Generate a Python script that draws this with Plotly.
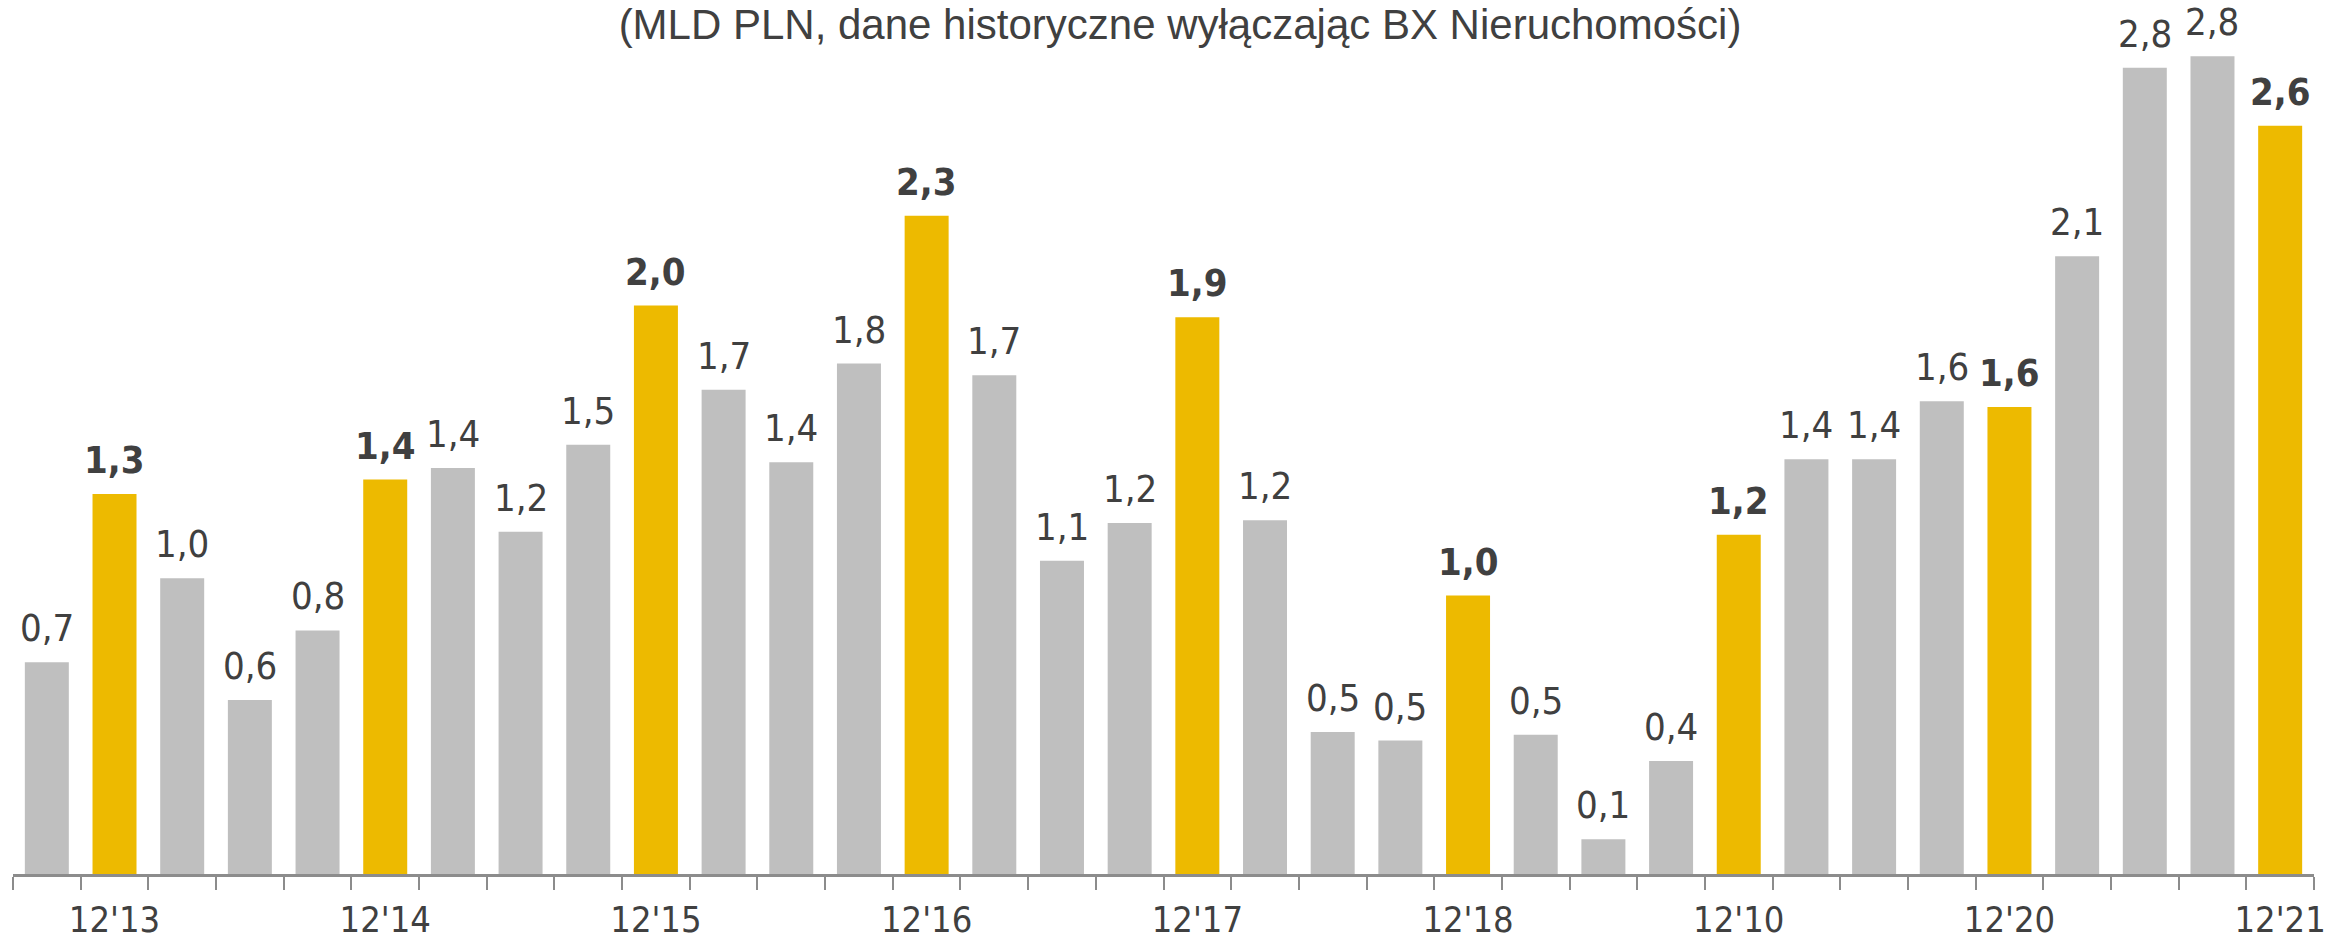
import plotly.graph_objects as go

# Quarter categories (Sep'13 .. Dec'21)
quarters = ["09'13", "12'13", "03'14", "06'14", "09'14", "12'14", "03'15", "06'15",
            "09'15", "12'15", "03'16", "06'16", "09'16", "12'16", "03'17", "06'17",
            "09'17", "12'17", "03'18", "06'18", "09'18", "12'18", "03'19", "06'19",
            "09'19", "12'19", "03'20", "06'20", "09'20", "12'20", "03'21", "06'21",
            "09'21", "12'21"]

# Values (bn PLN)
values = [0.73, 1.31, 1.02, 0.60, 0.84, 1.36, 1.40, 1.18,
          1.48, 1.96, 1.67, 1.42, 1.76, 2.27, 1.72, 1.08,
          1.21, 1.92, 1.22, 0.49, 0.46, 0.96, 0.48, 0.12,
          0.39, 1.17, 1.43, 1.43, 1.63, 1.61, 2.13, 2.78,
          2.82, 2.58]

# Tick labels as printed on the chart (only year-end quarters labelled)
tick_labels = ["", "12'13", "", "", "", "12'14", "", "",
               "", "12'15", "", "", "", "12'16", "", "",
               "", "12'17", "", "", "", "12'18", "", "",
               "", "12'10", "", "", "", "12'20", "", "",
               "", "12'21"]

title_text = "(MLD PLN, dane historyczne wyłączając BX Nieruchomości)"

GRAY = "#BFBFBF"
YELLOW = "#EDBA00"
TEXT = "#404040"
AXIS = "#8C8C8C"
FONT = "DejaVu Sans Condensed, DejaVu Sans, sans-serif"

highlight = [q.startswith("12") for q in quarters]
colors = [YELLOW if h else GRAY for h in highlight]

fig = go.Figure()
fig.add_trace(go.Bar(
    x=quarters, y=values,
    marker=dict(color=colors, line=dict(width=0)),
    hoverinfo="skip",
))

for q, v, h in zip(quarters, values, highlight):
    lbl = f"{v:.1f}".replace(".", ",")
    fig.add_annotation(
        x=q, y=v, xref="x", yref="y",
        text=f"<b>{lbl}</b>" if h else lbl,
        showarrow=False, yanchor="bottom", yshift=10,
        font=dict(family=FONT, size=38, color=TEXT),
    )

fig.update_layout(
    width=2328, height=941,
    margin=dict(l=13, r=14, t=30, b=67, autoexpand=False),
    paper_bgcolor="white", plot_bgcolor="white",
    bargap=0.35,
    showlegend=False,
    title=dict(
        text=title_text,
        x=1180 / 2328, xref="container", xanchor="center",
        y=1 - 10 / 941, yref="container", yanchor="top",
        font=dict(family="Liberation Sans, sans-serif", size=42, color=TEXT),
        pad=dict(t=0, b=0),
    ),
)

fig.update_xaxes(
    type="category",
    tickmode="array", tickvals=quarters, ticktext=tick_labels,
    tickson="boundaries", tickangle=0, automargin=False,
    ticks="outside", ticklen=13, tickwidth=2, tickcolor=AXIS,
    showline=True, linecolor=AXIS, linewidth=3,
    showgrid=False, zeroline=False,
    tickfont=dict(family=FONT, size=36, color=TEXT),
    ticklabelstandoff=12,
    range=[-0.5, len(quarters) - 0.5],
)
fig.update_yaxes(
    range=[0, 844 / 290], automargin=False,
    visible=False, showgrid=False, zeroline=False,
)

fig.write_html(
    "out.html",
    config={"displayModeBar": False},
    post_script="document.body.style.margin='0px';document.body.style.overflow='hidden';",
)
